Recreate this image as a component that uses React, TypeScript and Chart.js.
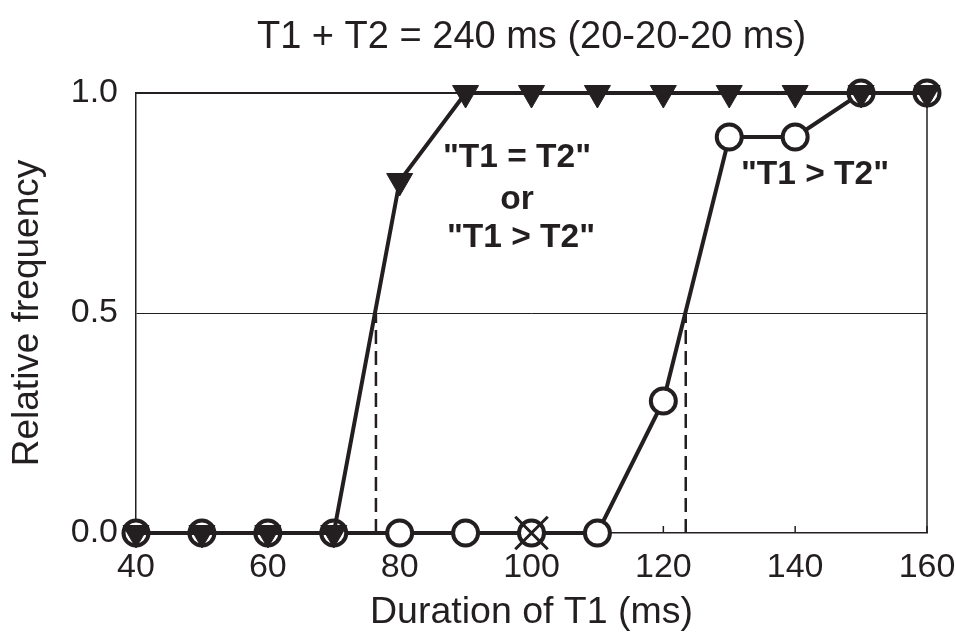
import React, { useEffect, useRef } from 'react';
import { Chart, registerables } from 'chart.js';

Chart.register(...registerables);

// ---- data ----
const durations = [40, 50, 60, 70, 80, 90, 100, 110, 120, 130, 140, 150, 160];
const equalOrGreater = [0, 0, 0, 0, 0.8, 1, 1, 1, 1, 1, 1, 1, 1];
const greaterOnly = [0, 0, 0, 0, 0, 0, 0, 0, 0.3, 0.9, 0.9, 1, 1];
const excludedDurations = [100];
const excludedValues = [0];
const thresholdDurations = [76.4, 123.4];
const thresholdLevel = 0.5;
const xTickValues = [40, 60, 80, 100, 120, 140, 160];
const yTickValues = [0, 0.5, 1];
const chartTitle = 'T1 + T2 = 240 ms (20-20-20 ms)';
const xTitle = 'Duration of T1 (ms)';
const yTitle = 'Relative frequency';
const labelEqualLines = ['"T1 = T2"', 'or', '"T1 > T2"'];
const labelGreaterLines = ['"T1 > T2"'];

const INK = '#231f20';
const FONT = '"Liberation Sans", Arial, Helvetica, sans-serif';

const framePlugin = {
  id: 'frame',
  beforeDatasetsDraw(chart: any) {
    const { ctx, chartArea: a, scales } = chart;
    ctx.save();
    ctx.strokeStyle = INK;
    ctx.lineWidth = 2;
    ctx.beginPath();
    ctx.moveTo(a.left, a.top);
    ctx.lineTo(a.right, a.top);
    ctx.stroke();
    ctx.lineWidth = 1.5;
    ctx.beginPath();
    ctx.moveTo(a.right, a.top);
    ctx.lineTo(a.right, a.bottom);
    ctx.stroke();
    xTickValues.forEach((v) => {
      const px = scales.x.getPixelForValue(v);
      ctx.beginPath();
      ctx.moveTo(px, a.bottom);
      ctx.lineTo(px, a.bottom - 7);
      ctx.stroke();
    });
    ctx.restore();
  },
  afterDraw(chart: any) {
    const { ctx, chartArea: a, scales } = chart;
    ctx.save();
    ctx.fillStyle = INK;
    ctx.textAlign = 'center';
    ctx.textBaseline = 'middle';
    ctx.font = `38px ${FONT}`;
    ctx.fillText(chartTitle, (a.left + a.right) / 2, 38);

    ctx.font = `bold 33.5px ${FONT}`;
    const x1 = scales.x.getPixelForValue(97.8);
    const ys = [0.852, 0.758, 0.672];
    labelEqualLines.forEach((t, i) => {
      ctx.fillText(t, x1 + (i === 2 ? 4 : 0), scales.y.getPixelForValue(ys[i]));
    });
    const x2 = scales.x.getPixelForValue(143.0);
    labelGreaterLines.forEach((t) => {
      ctx.fillText(t, x2, scales.y.getPixelForValue(0.814));
    });
    ctx.restore();
  },
};

export default function App() {
  const ref = useRef<HTMLCanvasElement | null>(null);

  useEffect(() => {
    if (!ref.current) return;
    const pts = (xs: number[], ys: number[]) => xs.map((x, i) => ({ x, y: ys[i] }));
    const chart = new Chart(ref.current, {
      type: 'line',
      data: {
        datasets: [
          {
            label: 'excluded',
            data: pts(excludedDurations, excludedValues),
            showLine: false,
            pointStyle: 'crossRot',
            pointRadius: 23,
            pointBorderWidth: 3,
            pointBorderColor: INK,
            borderColor: INK,
            order: 0,
            clip: false,
          } as any,
          {
            label: '"T1 = T2" or "T1 > T2"',
            data: pts(durations, equalOrGreater),
            borderColor: INK,
            borderWidth: 4,
            pointStyle: 'triangle',
            rotation: 180,
            pointRadius: 15,
            pointBackgroundColor: INK,
            pointBorderColor: INK,
            pointBorderWidth: 1,
            order: 1,
            clip: false,
          } as any,
          {
            label: '"T1 > T2"',
            data: pts(durations, greaterOnly),
            borderColor: INK,
            borderWidth: 4,
            pointStyle: 'circle',
            pointRadius: 12.5,
            pointBackgroundColor: '#ffffff',
            pointBorderColor: INK,
            pointBorderWidth: 4,
            order: 2,
            clip: false,
          } as any,
          ...thresholdDurations.map((d, i) => ({
            label: `threshold ${i + 1}`,
            data: [
              { x: d, y: 0 },
              { x: d, y: thresholdLevel },
            ],
            borderColor: INK,
            borderWidth: 2.5,
            borderDash: [14, 7],
            pointRadius: 0,
            order: 3,
            clip: false,
          })) as any,
        ],
      },
      options: {
        animation: false,
        responsive: true,
        maintainAspectRatio: false,
        layout: { padding: { top: 93, right: 29, left: 0, bottom: 0 } },
        plugins: {
          legend: { display: false },
          tooltip: { enabled: false },
          title: { display: false },
        },
        scales: {
          x: {
            type: 'linear',
            min: 40,
            max: 160,
            afterFit: (s: any) => {
              s.height = 111;
              s.paddingLeft = 0;
              s.paddingRight = 0;
            },
            afterBuildTicks: (s: any) => {
              s.ticks = xTickValues.map((v) => ({ value: v }));
            },
            grid: { display: false, drawTicks: false },
            border: { display: true, color: INK, width: 1.5 },
            ticks: {
              color: INK,
              font: { family: FONT, size: 34 },
              padding: 14,
              maxRotation: 0,
              autoSkip: false,
            },
            title: {
              display: true,
              text: xTitle,
              color: INK,
              font: { family: FONT, size: 37.5 },
              padding: { top: 0, bottom: 9 },
            },
          },
          y: {
            type: 'linear',
            min: 0,
            max: 1,
            afterFit: (s: any) => {
              s.width = 136;
              s.paddingTop = 0;
              s.paddingBottom = 0;
            },
            afterBuildTicks: (s: any) => {
              s.ticks = yTickValues.map((v) => ({ value: v }));
            },
            grid: {
              drawTicks: false,
              tickLength: 0,
              lineWidth: 1,
              color: (c: any) => (c.tick && c.tick.value === thresholdLevel ? INK : 'rgba(0,0,0,0)'),
            },
            border: { display: true, color: INK, width: 1.5 },
            ticks: {
              color: INK,
              font: { family: FONT, size: 34 },
              padding: 18,
              callback: (v: any) => Number(v).toFixed(1),
            },
            title: {
              display: true,
              text: yTitle,
              color: INK,
              font: { family: FONT, size: 37 },
              padding: { top: 6, bottom: 0 },
            },
          },
        },
      } as any,
      plugins: [framePlugin],
    });
    return () => chart.destroy();
  }, []);

  return (
    <div style={{ position: 'fixed', left: 0, top: 0, width: 956, height: 644, background: '#fff' }}>
      <canvas ref={ref} />
    </div>
  );
}
